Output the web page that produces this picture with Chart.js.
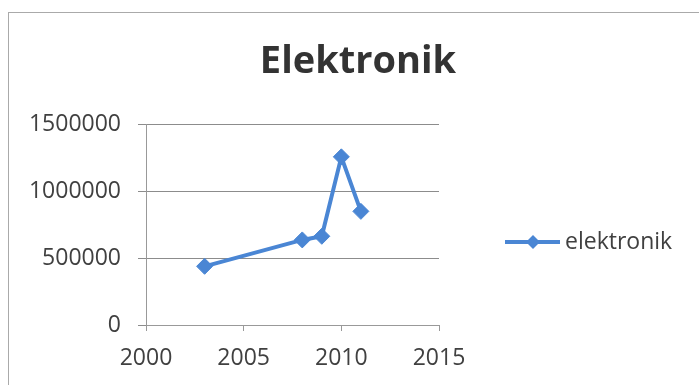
<!DOCTYPE html>
<html>
<head>
<meta charset="utf-8">
<script src="https://cdn.jsdelivr.net/npm/chart.js@4"></script>
<style>
  body { margin: 0; background: #fff; }
  #frame { position: absolute; left: 8px; top: 12px; width: 720px; height: 400px; border: 1px solid #aaa; }
  #myChart { position: absolute; left: 0; top: 0; }
</style>
</head>
<body>
<div id="frame"></div>
<canvas id="myChart" width="699" height="385"></canvas>
<script>
// data
var years = [2003, 2008, 2009, 2010, 2011];
var elektronik = [438000, 635000, 662000, 1255000, 848000];
var seriesName = 'elektronik';
var chartTitle = 'Elektronik';

var lineColor = '#4a86d4';
var font = "'Open Sans', sans-serif";

var points = [];
for (var i = 0; i < years.length; i++) {
    points.push({x: years[i], y: elektronik[i]});
}

// title + legend drawn by hand: title centred on the whole frame,
// legend shows line + diamond like excel
var extrasPlugin = {
    id: 'excelExtras',
    afterDraw: function (chart) {
        var ctx = chart.ctx;
        var area = chart.chartArea;
        ctx.save();
        // title
        ctx.fillStyle = '#333333';
        ctx.font = "bold 38px " + font;
        ctx.textAlign = 'center';
        ctx.textBaseline = 'middle';
        ctx.fillText(chartTitle, 358, 62);

        // legend
        var x0 = area.right + 66;
        var y0 = 242;
        ctx.strokeStyle = lineColor;
        ctx.lineWidth = 4;
        ctx.beginPath();
        ctx.moveTo(x0, y0);
        ctx.lineTo(x0 + 55, y0);
        ctx.stroke();
        ctx.fillStyle = lineColor;
        ctx.beginPath();
        var cx = x0 + 28, r = 7;
        ctx.moveTo(cx, y0 - r);
        ctx.lineTo(cx + r, y0);
        ctx.lineTo(cx, y0 + r);
        ctx.lineTo(cx - r, y0);
        ctx.closePath();
        ctx.fill();
        ctx.fillStyle = '#404040';
        ctx.font = "23px " + font;
        ctx.textAlign = 'left';
        ctx.fillText(seriesName, x0 + 60, y0);
        ctx.restore();
    }
};

new Chart(document.getElementById('myChart'), {
    type: 'scatter',
    data: {
        datasets: [{
            label: seriesName,
            data: points,
            showLine: true,
            borderColor: lineColor,
            backgroundColor: lineColor,
            borderWidth: 4,
            pointStyle: 'rectRot',
            pointRadius: 8,
            pointBorderWidth: 1,
            tension: 0
        }]
    },
    options: {
        responsive: false,
        animation: false,
        layout: { padding: { left: 0, right: 260, top: 124, bottom: 0 } },
        plugins: {
            legend: { display: false },
            tooltip: { enabled: false },
            title: { display: false }
        },
        scales: {
            x: {
                type: 'linear',
                min: 2000,
                max: 2015,
                ticks: {
                    stepSize: 5,
                    color: '#404040',
                    font: { family: font, size: 23 },
                    padding: 14,
                    callback: function (v) { return String(v); }
                },
                grid: { drawOnChartArea: false, drawTicks: true, tickLength: 6, color: '#999' },
                border: { color: '#999', width: 1 },
                afterFit: function (scale) { scale.height = 60; }
            },
            y: {
                min: 0,
                max: 1500000,
                ticks: {
                    stepSize: 500000,
                    color: '#404040',
                    font: { family: font, size: 23 },
                    padding: 17,
                    callback: function (v) { return String(v); }
                },
                grid: { color: '#8c8c8c', tickLength: 8, lineWidth: 1 },
                border: { color: '#999', width: 1 },
                afterFit: function (scale) { scale.width = 146; }
            }
        }
    },
    plugins: [extrasPlugin]
});
</script>
</body>
</html>
